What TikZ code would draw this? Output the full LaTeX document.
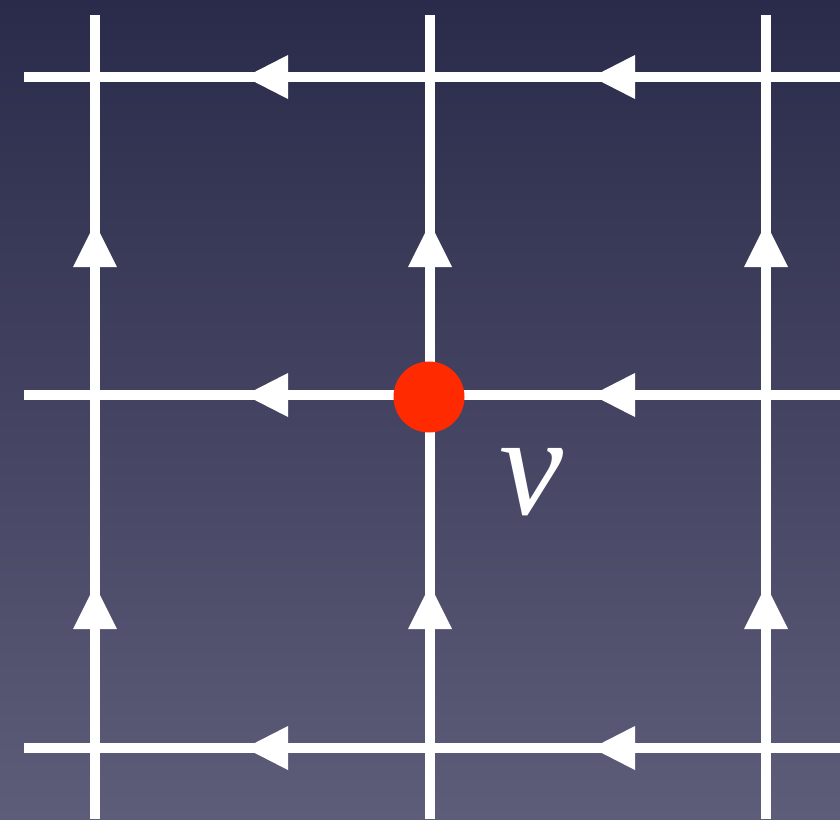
\documentclass[tikz,border=0pt]{standalone}
\usepackage{fontspec}
\setmainfont{Liberation Serif}
\definecolor{bgtop}{HTML}{2A2B4A}
\definecolor{bgbot}{HTML}{5D5C79}
\definecolor{dotred}{HTML}{FF2A00}
\begin{document}
\begin{tikzpicture}[x=1pt,y=-1pt,
  gridline/.style={draw=white,line width=10.5pt},
  harrow/.style={fill=white},
  varrow/.style={fill=white}]
\useasboundingbox (0,0) rectangle (840,819);
\shade[top color=bgtop,bottom color=bgbot] (0,0) rectangle (840,819);
% end coordinates
\foreach \x/\n in {95/a,430/b,766/c}{
  \coordinate (top\n) at (\x,15);
  \coordinate (bot\n) at (\x,819);
}
\foreach \y/\n in {77/a,395/b,748/c}{
  \coordinate (left\n) at (24,\y);
  \coordinate (right\n) at (840,\y);
}
\foreach \n in {a,b,c}{
  \draw[gridline] (top\n) -- (bot\n);
  \draw[gridline] (left\n) -- (right\n);
}
% horizontal arrows (pointing left)
\foreach \y in {77,395,748}{
  \foreach \t in {245,592}{
    \fill[harrow] (\t,\y) -- (\t+43,\y-22) -- (\t+43,\y+22) -- cycle;
  }
}
% vertical arrows (pointing up)
\foreach \x in {95,430,766}{
  \foreach \t in {223,585}{
    \fill[varrow] (\x,\t) -- (\x-22,\t+44) -- (\x+22,\t+44) -- cycle;
  }
}
\node[circle,fill=dotred,minimum size=71pt,inner sep=0pt] (v) at (429,397) {};
\node[inner sep=0pt,text=white,font=\fontsize{144}{144}\selectfont\itshape] (vlabel) at (531,482) {v};
\end{tikzpicture}
\end{document}
